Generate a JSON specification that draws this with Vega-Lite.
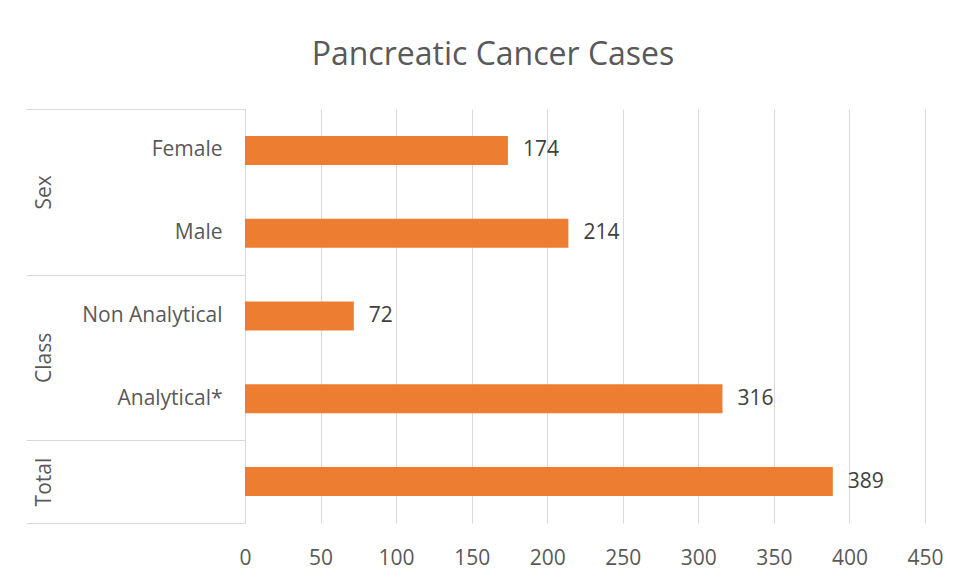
{
  "$schema": "https://vega.github.io/schema/vega-lite/v6.json",
  "width": 680,
  "height": 414,
  "autosize": {"type": "none"},
  "padding": {"left": 245, "top": 109, "right": 33, "bottom": 58},
  "background": "white",
  "config": {"view": {"stroke": null}, "font": "Open Sans"},
  "title": {
    "text": "Pancreatic Cancer Cases",
    "fontSize": 32,
    "font": "Open Sans",
    "fontWeight": "normal",
    "color": "#595959",
    "anchor": "middle",
    "frame": "group",
    "dx": -92,
    "offset": 9,
    "baseline": "alphabetic"
  },
  "datasets": {
    "rows": [
      {"group": "Sex", "category": "Female", "cases": 174},
      {"group": "Sex", "category": "Male", "cases": 214},
      {"group": "Class", "category": "Non Analytical", "cases": 72},
      {"group": "Class", "category": "Analytical*", "cases": 316},
      {"group": "Total", "category": "Total", "cases": 389}
    ],
    "bounds": [{"pos": 0}, {"pos": 2}, {"pos": 4}, {"pos": 5}],
    "groups": [
      {"group": "Sex", "mid": 1},
      {"group": "Class", "mid": 3},
      {"group": "Total", "mid": 4.5}
    ]
  },
  "layer": [
    {
      "data": {"name": "rows"},
      "encoding": {
        "y": {
          "field": "category",
          "type": "nominal",
          "sort": ["Female", "Male", "Non Analytical", "Analytical*", "Total"],
          "scale": {"paddingInner": 0.65, "paddingOuter": 0.325},
          "axis": {
            "title": null,
            "ticks": false,
            "tickSize": 0,
            "labelPadding": 23,
            "labelFontSize": 21,
            "labelFont": "Open Sans",
            "labelColor": "#595959",
            "domainColor": "#d9d9d9",
            "domainWidth": 1,
            "labelExpr": "datum.label == 'Total' ? '' : datum.label"
          }
        },
        "x": {
          "field": "cases",
          "type": "quantitative",
          "scale": {"domain": [0, 450], "nice": false},
          "axis": {
            "title": null,
            "values": [0, 50, 100, 150, 200, 250, 300, 350, 400, 450],
            "grid": true,
            "gridColor": "#d9d9d9",
            "gridWidth": 1,
            "domain": false,
            "ticks": false,
            "tickSize": 0,
            "labelFlush": false,
            "labelOverlap": false,
            "labelPadding": 24,
            "labelFontSize": 21,
            "labelFont": "Open Sans",
            "labelColor": "#595959"
          }
        }
      },
      "layer": [
        {"mark": {"type": "bar", "color": "#ED7D31"}},
        {
          "mark": {"type": "text", "align": "left", "baseline": "middle", "dx": 15, "fontSize": 21, "font": "Open Sans", "color": "#404040"},
          "encoding": {"text": {"field": "cases", "type": "quantitative"}}
        }
      ]
    },
    {
      "data": {"name": "bounds"},
      "mark": {"type": "point", "opacity": 0},
      "encoding": {
        "y": {
          "field": "pos",
          "type": "quantitative",
          "scale": {"domain": [0, 5], "reverse": true, "nice": false, "zero": false},
          "axis": {
            "orient": "left",
            "title": null,
            "values": [0, 2, 4, 5],
            "ticks": true,
            "tickSize": 219,
            "tickColor": "#d9d9d9",
            "tickWidth": 1,
            "labels": false,
            "domain": false,
            "grid": false
          }
        }
      }
    },
    {
      "data": {"name": "groups"},
      "mark": {"type": "point", "opacity": 0},
      "encoding": {
        "y": {
          "field": "mid",
          "type": "quantitative",
          "scale": {"domain": [0, 5], "reverse": true, "nice": false, "zero": false},
          "axis": {
            "orient": "left",
            "title": null,
            "values": [1, 3, 4.5],
            "ticks": false,
            "tickSize": 0,
            "domain": false,
            "grid": false,
            "labelAngle": -90,
            "labelAlign": "center",
            "labelBaseline": "alphabetic",
            "labelPadding": 195,
            "labelFontSize": 21,
            "labelFont": "Open Sans",
            "labelColor": "#595959",
            "labelExpr": "datum.value == 1 ? 'Sex' : datum.value == 3 ? 'Class' : 'Total'"
          }
        }
      }
    }
  ],
  "resolve": {"scale": {"y": "independent"}, "axis": {"y": "independent"}}
}
